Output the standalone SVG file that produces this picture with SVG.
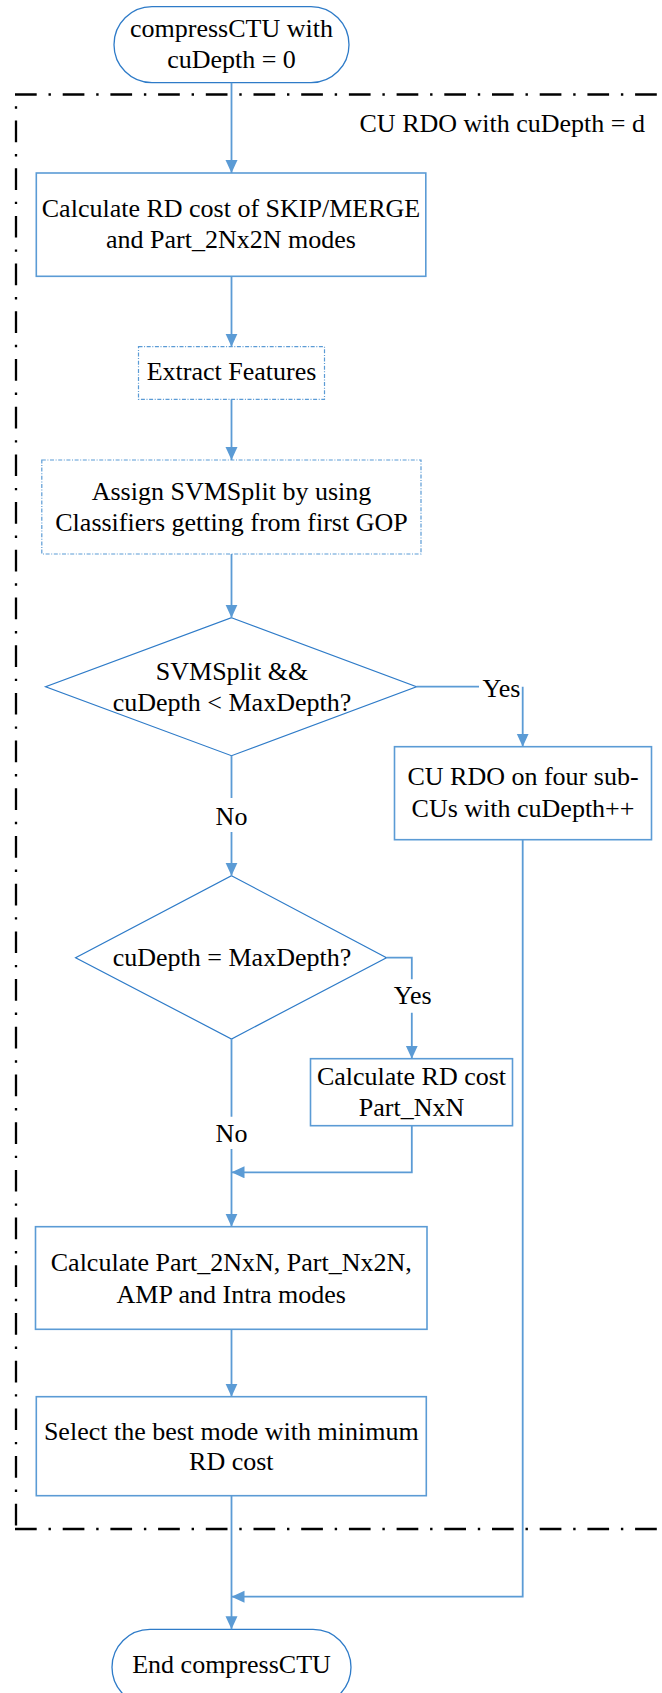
<svg xmlns="http://www.w3.org/2000/svg" width="662" height="1693" viewBox="0 0 662 1693">
  <defs>
    <marker id="arrow" markerUnits="userSpaceOnUse" markerWidth="14" markerHeight="13" refX="13" refY="6" orient="auto">
      <path d="M0,0 L13,6 L0,12 z" fill="#5B9BD5"/>
    </marker>
    <style>
      text { font-family: "Liberation Serif", "Times New Roman", serif; font-size: 26px; fill: #000; text-anchor: middle; }
      .term { fill: #fff; stroke: #2E7BC8; stroke-width: 1.3; }
      .box { fill: #fff; stroke: #5B9BD5; stroke-width: 1.6; }
      .fbox { fill: #fff; stroke: #5B9BD5; stroke-width: 1.2; stroke-dasharray: 4 1.6 1 1.6; }
      .dia { fill: #fff; stroke: #2E7BC8; stroke-width: 1.2; }
      .conn { fill: none; stroke: #5B9BD5; stroke-width: 1.8; }
      .frame { fill: none; stroke: #000; stroke-width: 2.3; stroke-dasharray: 21.7 11.8 2.4 11.8; }
    </style>
  </defs>

  <!-- dash-dot frame of the per-depth RDO loop (open on the right) -->
  <g id="cu-rdo-frame">
    <path class="frame" d="M15,94.5 H700"/>
    <path class="frame" d="M16,94.5 V1529" stroke-dashoffset="21.7"/>
    <path class="frame" d="M15,1529 H700"/>
    <text x="645" y="131.7" style="text-anchor:end">CU RDO with cuDepth = d</text>
  </g>

  <g id="start">
    <rect class="term" x="114" y="6.7" width="235" height="76" rx="38" ry="38"/>
    <text x="231.5" y="36.7">compressCTU with</text>
    <text x="231.5" y="68.3">cuDepth = 0</text>
  </g>

  <g id="rd-skip-merge">
    <rect class="box" x="36.3" y="173" width="389.5" height="103.3"/>
    <text x="231" y="216.7">Calculate RD cost of SKIP/MERGE</text>
    <text x="231" y="248.3">and Part_2Nx2N modes</text>
  </g>

  <g id="extract-features">
    <rect class="fbox" x="138.5" y="346.7" width="186" height="52.6"/>
    <text x="231.5" y="380">Extract Features</text>
  </g>

  <g id="assign-svmsplit">
    <rect class="fbox" x="41.8" y="460" width="379.2" height="94"/>
    <text x="231.5" y="500">Assign SVMSplit by using</text>
    <text x="231.5" y="530.5">Classifiers getting from first GOP</text>
  </g>

  <g id="split-decision">
    <polygon class="dia" points="231.5,617.7 416.5,686.7 231.5,755.7 45.6,686.7"/>
    <text x="232" y="680">SVMSplit &amp;&amp;</text>
    <text x="232" y="710.5">cuDepth &lt; MaxDepth?</text>
  </g>

  <g id="sub-cu-rdo">
    <rect class="box" x="394.5" y="746.7" width="257" height="93"/>
    <text x="523" y="785">CU RDO on four sub-</text>
    <text x="523" y="817.3">CUs with cuDepth++</text>
  </g>

  <g id="max-depth-decision">
    <polygon class="dia" points="231.5,875.7 386.5,957.7 231.5,1039 75.6,957.7"/>
    <text x="232" y="966">cuDepth = MaxDepth?</text>
  </g>

  <g id="rd-nxn">
    <rect class="box" x="310.5" y="1058.7" width="202" height="67"/>
    <text x="411.5" y="1085">Calculate RD cost</text>
    <text x="411.5" y="1116">Part_NxN</text>
  </g>

  <g id="rd-other-modes">
    <rect class="box" x="35.5" y="1226.7" width="391.5" height="102.6"/>
    <text x="231.3" y="1270.7">Calculate Part_2NxN, Part_Nx2N,</text>
    <text x="231.3" y="1302.7">AMP and Intra modes</text>
  </g>

  <g id="select-best">
    <rect class="box" x="36.3" y="1396.7" width="390" height="99"/>
    <text x="231.3" y="1440">Select the best mode with minimum</text>
    <text x="231.3" y="1470">RD cost</text>
  </g>

  <g id="end">
    <rect class="term" x="112" y="1629.3" width="239" height="76" rx="38" ry="38"/>
    <text x="231.5" y="1672.7">End compressCTU</text>
  </g>

  <!-- connectors -->
  <g id="connectors">
    <path class="conn" d="M231.5,82.7 V173" marker-end="url(#arrow)"/>
    <path class="conn" d="M231.5,276.3 V346.7" marker-end="url(#arrow)"/>
    <path class="conn" d="M231.5,399.3 V460" marker-end="url(#arrow)"/>
    <path class="conn" d="M231.5,554 V617.7" marker-end="url(#arrow)"/>
    <!-- split: yes -->
    <path class="conn" d="M416.5,686.7 H479 M522.7,686.7 V746.7" marker-end="url(#arrow)"/>
    <text x="501.5" y="696.7">Yes</text>
    <!-- split: no -->
    <path class="conn" d="M231.5,755.7 V798 M231.5,832 V875.7" marker-end="url(#arrow)"/>
    <text x="231.5" y="825">No</text>
    <!-- max depth: yes -->
    <path class="conn" d="M386.5,957.7 H411.8 V979.3 M411.8,1012.7 V1058.7" marker-end="url(#arrow)"/>
    <text x="412.7" y="1004">Yes</text>
    <!-- max depth: no -->
    <path class="conn" d="M231.5,1039 V1116.7 M231.5,1149 V1226.7" marker-end="url(#arrow)"/>
    <text x="231.5" y="1141.7">No</text>
    <!-- NxN merges back -->
    <path class="conn" d="M411.8,1125.7 V1172.3 H231.5" marker-end="url(#arrow)"/>
    <path class="conn" d="M231.5,1329.3 V1396.7" marker-end="url(#arrow)"/>
    <path class="conn" d="M231.5,1495.7 V1629.3" marker-end="url(#arrow)"/>
    <!-- sub-CU result merges before the end -->
    <path class="conn" d="M522.7,839.7 V1596.7 H231.5" marker-end="url(#arrow)"/>
  </g>
</svg>
